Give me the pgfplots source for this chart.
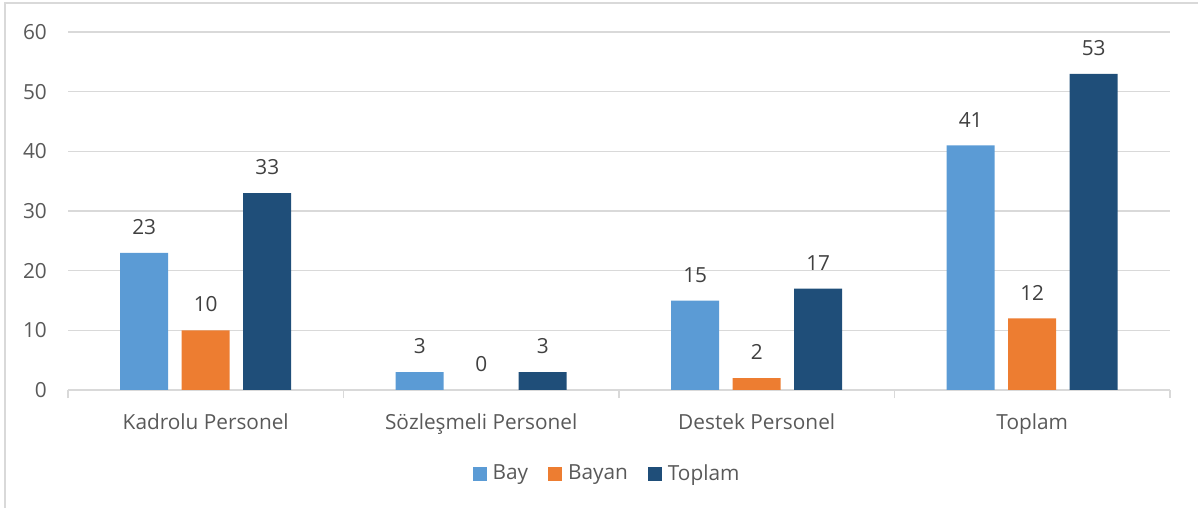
\documentclass[border=0pt]{standalone}
\usepackage{fontspec}
\setmainfont{Open Sans}
\usepackage{pgfplots}
\pgfplotsset{compat=1.18}
\definecolor{cBay}{HTML}{5B9BD5}
\definecolor{cBayan}{HTML}{ED7D31}
\definecolor{cTop}{HTML}{1F4E79}
\definecolor{gridc}{HTML}{D9D9D9}
\definecolor{labc}{HTML}{595959}
\definecolor{labd}{HTML}{404040}
\newcommand{\cf}{\fontsize{20.8bp}{25bp}\selectfont}
\begin{document}
\cf
\begin{tikzpicture}
\path[use as bounding box] (0,0) rectangle (1198bp,508bp);
\draw[color=gridc, line width=2bp] (5bp,0) -- (5bp,505bp) -- (1198bp,505bp);
\begin{axis}[
  at={(68bp,118bp)}, anchor=south west,
  scale only axis, width=1102bp, height=358bp,
  xmin=-0.5, xmax=3.5, ymin=0, ymax=60,
  /pgf/number format/assume math mode=true,
  axis x line*=bottom, axis y line*=left,
  y axis line style={draw=none},
  x axis line style={draw=gridc, line width=1.5bp, -},
  ytick={0,10,...,60},
  ytick style={draw=none},
  xtick={0,1,2,3},
  xtick style={draw=none},
  xticklabels={Kadrolu Personel, Sözleşmeli Personel, Destek Personel, Toplam},
  extra x ticks={-0.5,0.5,1.5,2.5,3.5},
  extra x tick labels={},
  extra x tick style={major tick length=8bp, tick align=outside, xtick style={draw=gridc, line width=1.5bp}},
  ymajorgrids, grid style={draw=gridc, line width=1.2bp},
  yticklabel style={anchor=east, inner sep=0pt, xshift=-21bp, text=labc, font=\cf},
  xticklabel style={anchor=north, inner sep=0pt, yshift=-19bp, text=labc, font=\cf},
  ybar=13.5bp, bar width=48bp,
  nodes near coords,
  every node near coord/.append style={text=labd, inner sep=0pt, anchor=south, yshift=18bp, font=\cf},
  legend style={at={(0.5,-0.2346)}, anchor=center, draw=none, fill=none, legend columns=3,
    font=\cf, text=labc, xshift=-12bp,
    /tikz/every odd column/.append style={column sep=4bp},
    /tikz/every even column/.append style={column sep=18bp}},
  legend image code/.code={\fill[#1,draw=none] (0bp,-7bp) rectangle (14bp,7bp);},
]
\addplot[fill=cBay, draw=none] coordinates {(0,23) (1,3) (2,15) (3,41)};
\addplot[fill=cBayan, draw=none] coordinates {(0,10) (1,0) (2,2) (3,12)};
\addplot[fill=cTop, draw=none] coordinates {(0,33) (1,3) (2,17) (3,53)};
\legend{Bay, Bayan, Toplam}
\end{axis}
\end{tikzpicture}
\end{document}
